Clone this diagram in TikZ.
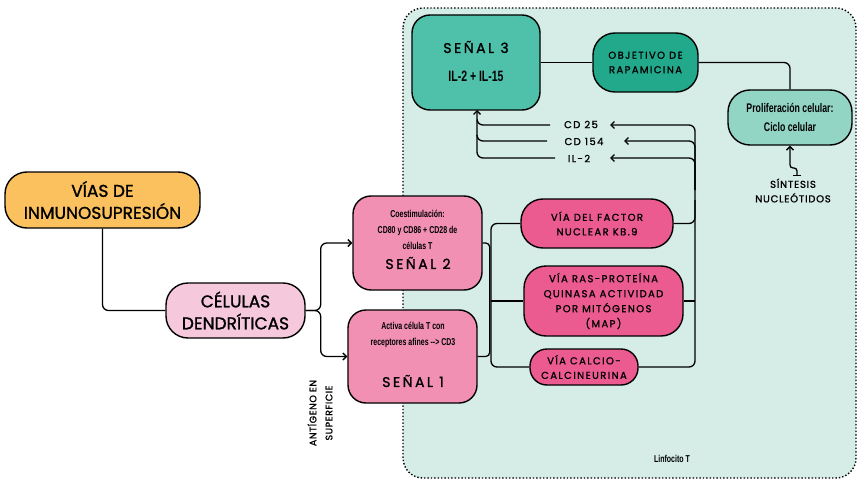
\documentclass[tikz,border=0pt]{standalone}
\usepackage{fontspec}
\setmainfont[FakeBold=1.3]{Poppins}
\newfontfamily\condfont[FakeStretch=0.7]{Liberation Sans Bold}
\usetikzlibrary{arrows.meta}
\definecolor{mint}{HTML}{D6ECE6}
\definecolor{orangeb}{HTML}{FBC15E}
\definecolor{pinkl}{HTML}{F6C8DC}
\definecolor{pinkm}{HTML}{F190B3}
\definecolor{pinkh}{HTML}{EC5B8F}
\definecolor{tealm}{HTML}{4FC0A9}
\definecolor{teald}{HTML}{22A98C}
\definecolor{teall}{HTML}{93D5C5}
\begin{document}
\begin{tikzpicture}[x=1pt,y=-1pt,
  box/.style={draw=black, line width=1.4pt, align=center, inner sep=0pt},
  conn/.style={line width=1.3pt, rounded corners=6pt},
  arr/.style={-{Straight Barb[length=3.5pt,width=7pt,line width=1.3pt]}},
  big/.style={font=\fontsize{17}{22}\selectfont},
  mid/.style={font=\fontsize{14}{16}\selectfont\addfontfeature{LetterSpace=18}},
  small/.style={font=\fontsize{10}{14.5}\selectfont\addfontfeature{LetterSpace=14}, align=center},
  cond/.style={font=\condfont\fontsize{10}{16}\selectfont, align=center}
]
\useasboundingbox (0,0) rectangle (858,481);
% T-lymphocyte region
\draw[fill=mint, dotted, line width=1.4pt, rounded corners=20pt] (403,8) rectangle (856,478);
\node[cond] (linf) at (672,459) {Linfocito T};

% left nodes
\node[box, big, fill=orangeb, rounded corners=22pt, minimum width=195pt, minimum height=56pt] (vias) at (102.5,200) {VÍAS DE\\INMUNOSUPRESIÓN};
\node[box, big, fill=pinkl, rounded corners=22pt, minimum width=139pt, minimum height=55pt] (celulas) at (235.5,310.5) {CÉLULAS\\DENDRÍTICAS};

% signal 2 and signal 1
\node[box, fill=pinkm, rounded corners=18pt, minimum width=129pt, minimum height=94pt] (s2) at (417.5,243) {};
\node[cond] (s2t) at (417.5,230) {Coestimulación:\\CD80 y CD86 + CD28 de\\células T};
\node[mid] (s2l) at (418,263) {SEÑAL 2};
\node[box, fill=pinkm, rounded corners=18pt, minimum width=129pt, minimum height=93pt] (s1) at (412.5,356.5) {};
\node[cond] (s1t) at (413,334.5) {Activa célula T con\\receptores afines {-}{-}> CD3};
\node[mid] (s1l) at (413,381) {SEÑAL 1};

\node[small, rotate=90, font=\fontsize{9.5}{16}\selectfont\addfontfeature{LetterSpace=6}] (ant) at (320,413) {ANTÍGENO EN\\SUPERFICIE};

% pathways
\node[box, small, fill=pinkh, rounded corners=22pt, minimum width=152pt, minimum height=49pt] (nfkb) at (597,223.5) {VÍA DEL FACTOR\\NUCLEAR KB.9};
\node[box, small, fill=pinkh, rounded corners=22pt, minimum width=159pt, minimum height=70pt, font=\fontsize{10}{15}\selectfont\addfontfeature{LetterSpace=14}] (ras) at (603.5,301) {VÍA RAS-PROTEÍNA\\QUINASA ACTIVIDAD\\POR MITÓGENOS\\(MAP)};
\node[box, small, fill=pinkh, rounded corners=17pt, minimum width=108pt, minimum height=36pt] (calc) at (584,367) {VÍA CALCIO-\\CALCINEURINA};

% signal 3 and related
\node[box, fill=tealm, rounded corners=18pt, minimum width=128pt, minimum height=95pt] (s3) at (476,62.5) {};
\node[mid] (s3l) at (476,47) {SEÑAL 3};
\node[font=\condfont\fontsize{15}{18}\selectfont] (s3t) at (476,76) {IL-2 + IL-15};
\node[box, small, fill=teald, rounded corners=22pt, minimum width=105pt, minimum height=59pt] (obj) at (645.5,62.5) {OBJETIVO DE\\RAPAMICINA};
\node[box, fill=teall, rounded corners=22pt, minimum width=124pt, minimum height=55pt, font=\condfont\fontsize{12.5}{19}\selectfont] (prol) at (790,117.5) {Proliferación celular:\\Ciclo celular};
\node[small, font=\fontsize{10}{14.5}\selectfont\addfontfeature{LetterSpace=8}] (sint) at (793,190.5) {SÍNTESIS\\NUCLEÓTIDOS};

% CD labels
\node[small] (cd25) at (581,124.5) {CD 25};
\node[small] (cd154) at (584,141.5) {CD 154};
\node[small] (il2) at (579,158.5) {IL-2};
\coordinate (cd25a) at (610,125);
\coordinate (cd154a) at (624,141);
\coordinate (il2a) at (610,158);
\coordinate (cd25b) at (550,125);
\coordinate (cd154b) at (547,141);
\coordinate (il2b) at (555,158);

% connectors
\draw[conn] (vias.south) |- (celulas.west);
\draw[conn, arr] (celulas.east) -- ++(15,0) |- (s2.west);
\draw[conn, arr] (celulas.east) -- ++(15,0) |- (s1.west);
\draw[conn, rounded corners=4pt] (s2.east) -- ++(7,0) |- (s1.east);
\draw[conn] (nfkb.west) -- (491,223.5) -- (491,367) -- (calc.west);
\draw[conn] (491,301) -- (ras.west);
\draw[conn, arr] (calc.east) -- (695,367) -- (695,125) -- (cd25a);
\draw[conn] (nfkb.east) -- (695,223.5) -- (695,200);
\draw[conn] (ras.east) -- (695,301);
\draw[conn, arr] (695,190) -- (695,141) -- (cd154a);
\draw[conn, arr] (695,190) -- (695,158) -- (il2a);
\draw[conn, arr] (cd25b) -- (477,125) -- (477,110);
\draw[conn] (cd154b) -- (477,141) -- (477,120);
\draw[conn] (il2b) -- (477,158) -- (477,135);
\draw[conn] (s3.east) -- (obj.west);
\draw[conn] (obj.east) -| (prol.north);
\draw[line width=1.3pt, rounded corners=3pt, {Bar[width=8pt,line width=1.3pt]}-{Straight Barb[length=3.5pt,width=7pt,line width=1.3pt]}] (797,176) -- (797,168) -- (790,168) -- (prol.south);
\end{tikzpicture}
\end{document}
